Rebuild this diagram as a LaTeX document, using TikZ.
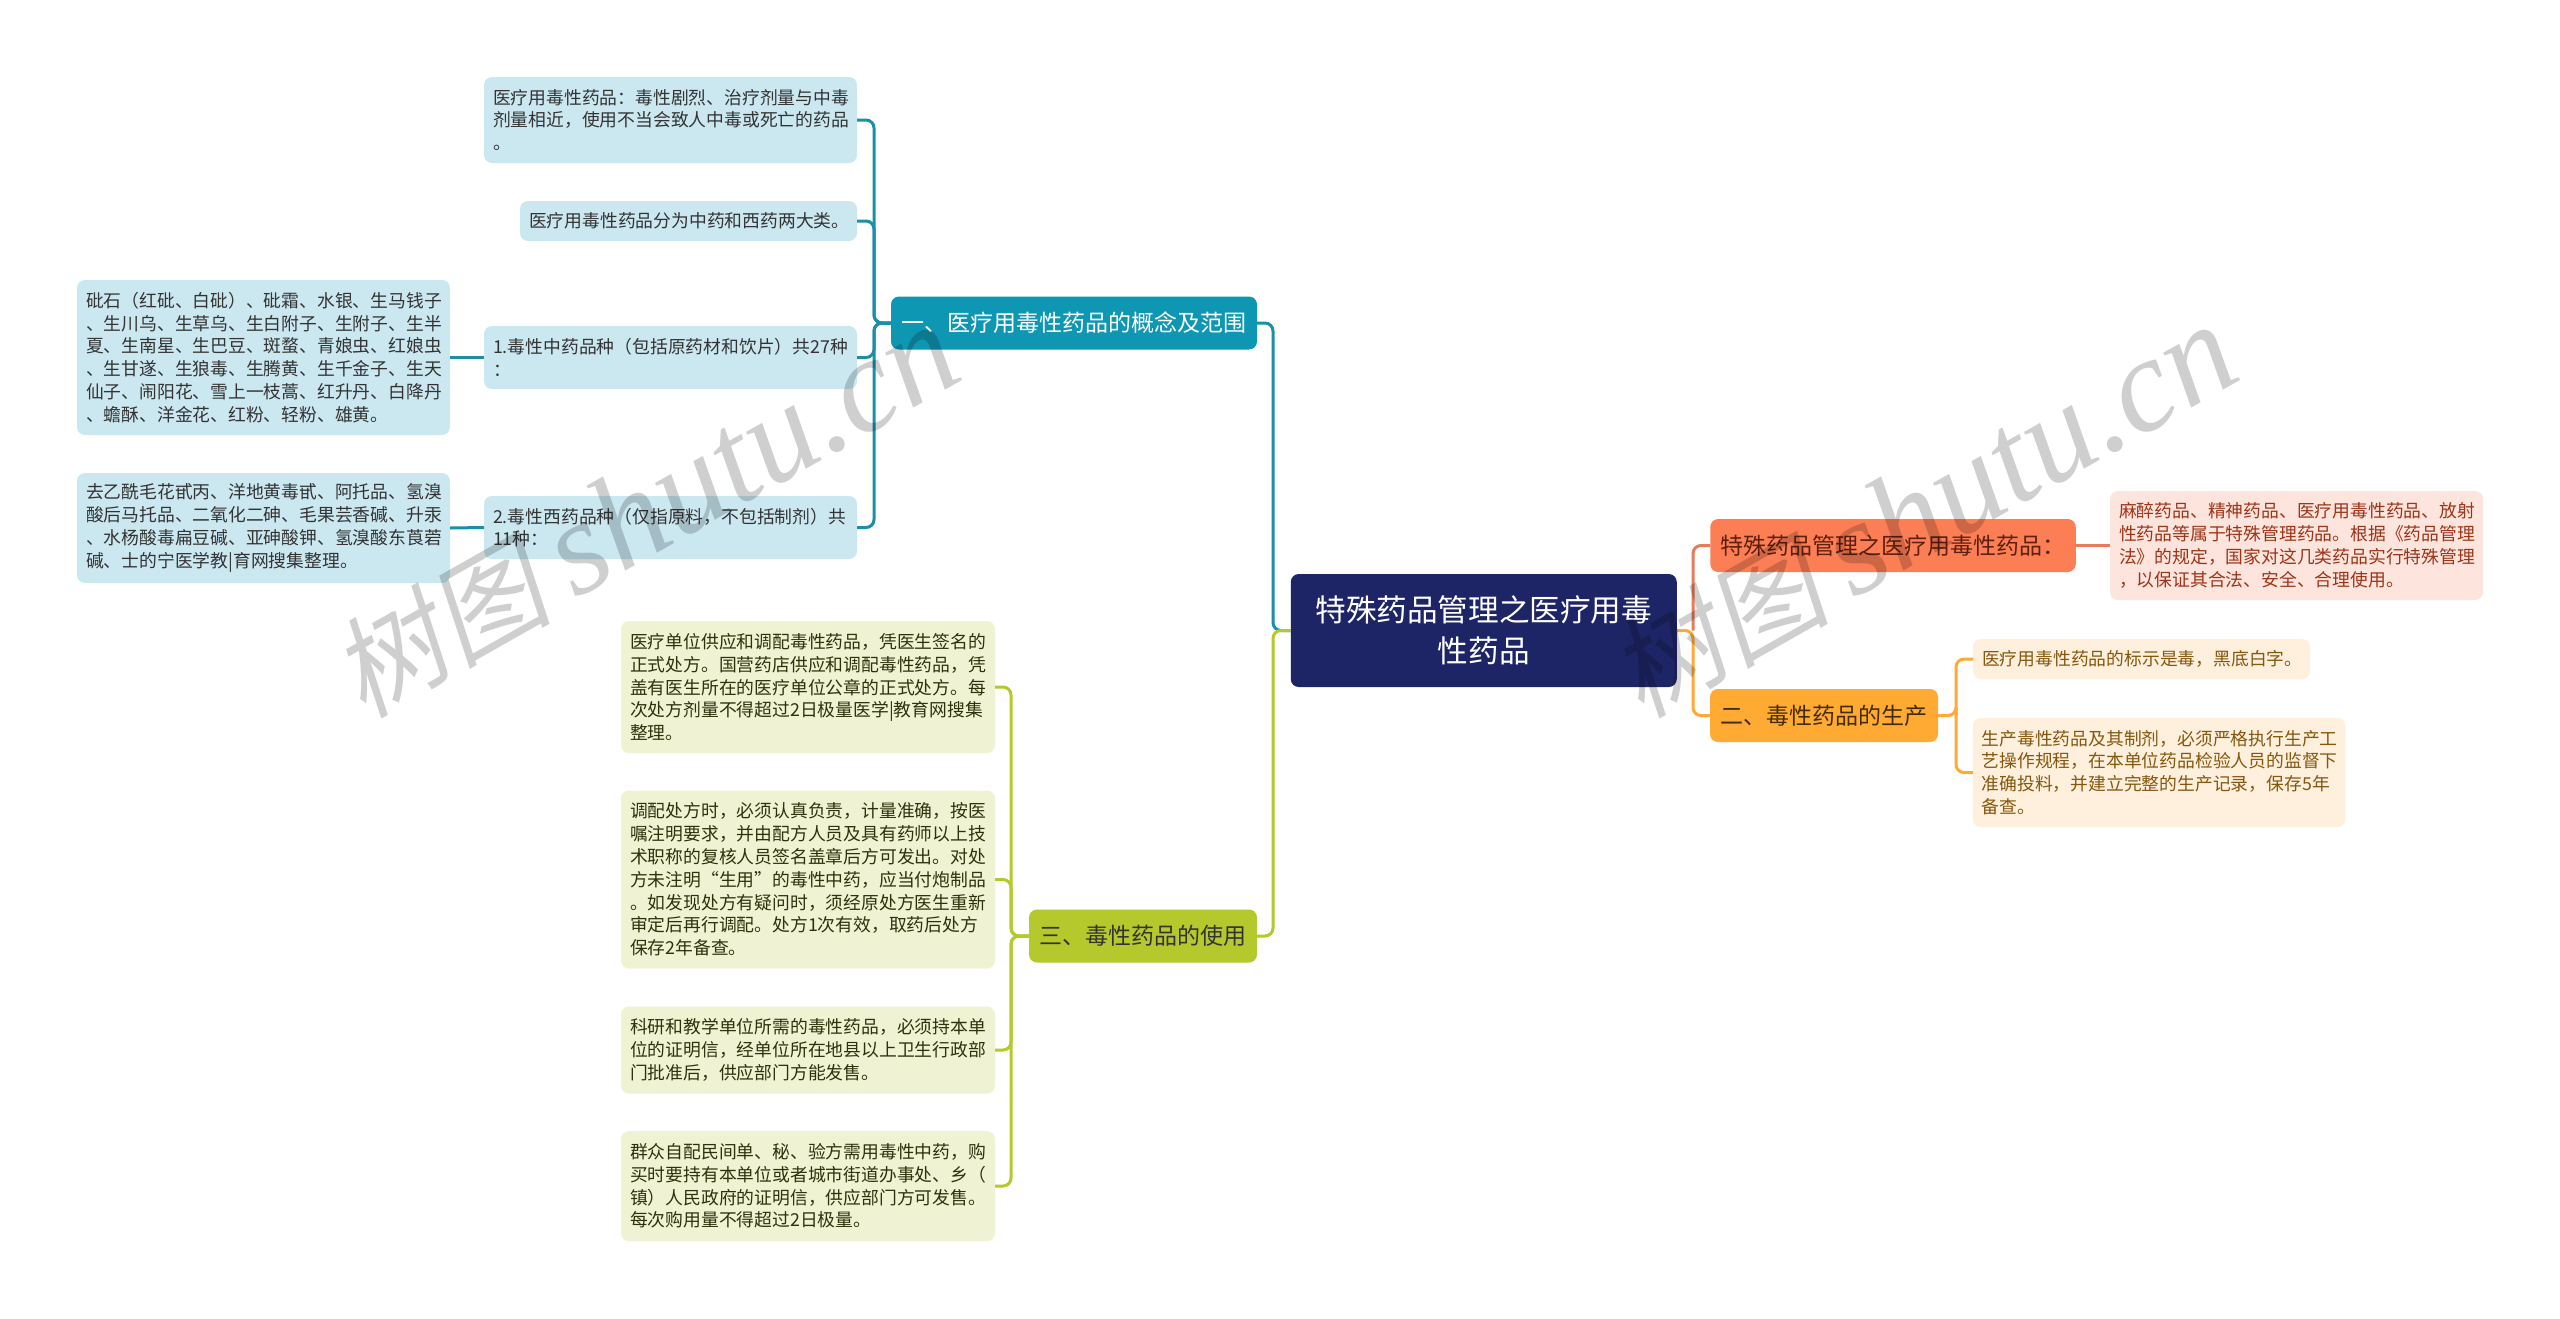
\documentclass[tikz,border=0pt]{standalone}
\usepackage{fontspec}
\setmainfont{Noto Sans CJK SC}
\newfontfamily\markfont[FakeSlant=0.2]{Noto Sans CJK SC}
\newfontfamily\marklatin{Liberation Serif}[ItalicFont=* Italic]
\usepackage{tikz}
\usetikzlibrary{calc}
\definecolor{tealdark}{HTML}{0E97B3}
\definecolor{tealline}{HTML}{1A8FA8}
\definecolor{teallight}{HTML}{CBE8F1}
\definecolor{greendark}{HTML}{B5C92C}
\definecolor{greenlight}{HTML}{EFF3D4}
\definecolor{reddark}{HTML}{FC7E55}
\definecolor{redline}{HTML}{E87C5A}
\definecolor{redlight}{HTML}{FDE5DD}
\definecolor{redtext}{HTML}{9C3418}
\definecolor{orangedark}{HTML}{FFAA33}
\definecolor{orangelight}{HTML}{FEF0DC}
\definecolor{orangetext}{HTML}{85570F}
\definecolor{rootblue}{HTML}{1E2566}
\newcommand{\marktext}{{\markfont\fontsize{55}{70}\selectfont 树图} {\marklatin\itshape\fontsize{67}{70}\selectfont shutu.cn}}
\tikzset{
    % Boxes
    box/.style={rectangle,rounded corners=4pt,inner ysep=0pt,outer sep=0pt},
    leaf/.style={box,inner xsep=4.5pt,align=left,font=\fontsize{8.9}{11.4}\selectfont},
    branch/.style={box,inner xsep=0pt,align=center,minimum height=26.5pt,font=\fontsize{11.5}{14}\selectfont},
    root box/.style={box,fill=rootblue,text=white,align=center,text width=175pt,minimum width=193pt,minimum height=56.5pt,font=\fontsize{15.3}{20.3}\selectfont},
    %
    % Colors of the four arms
    teal leaf/.style={leaf,fill=teallight,text=black!80},
    green leaf/.style={leaf,fill=greenlight,text=black!75!greendark},
    red leaf/.style={leaf,fill=redlight,text=redtext},
    orange leaf/.style={leaf,fill=orangelight,text=orangetext},
    %
    % Connectors
    conn/.style={line width=1.5pt,rounded corners=4pt},
    teal conn/.style={conn,tealline},
    green conn/.style={conn,greendark},
    red conn/.style={conn,redline},
    orange conn/.style={conn,orangedark},
    %
    % Watermark
    watermark/.style={black,opacity=.19,rotate=29.5,font=\fontsize{53}{70}\selectfont}
}
\begin{document}
\begin{tikzpicture}[x=.5pt,y=-.5pt]
    \useasboundingbox[fill=white] (0,0) rectangle (2560,1318);

    \node[root box] (root) at (1483.75,630.5) {特殊药品管理之医疗用毒\\性药品};

    % left side
    \node[branch,fill=tealdark,text=white,minimum width=183pt] (concept) at (1074,323) {一、医疗用毒性药品的概念及范围};
    \node[teal leaf,text width=177.5pt,minimum height=43pt] (definition) at (670.5,120) {医疗用毒性药品：毒性剧烈、治疗剂量与中毒\\剂量相近，使用不当会致人中毒或死亡的药品\\。};
    \node[teal leaf,text width=159.5pt,minimum height=20pt] (kinds) at (688.5,221) {医疗用毒性药品分为中药和西药两大类。};
    \node[teal leaf,text width=177.5pt,minimum height=31.5pt] (herbal) at (670.5,357.5) {1.毒性中药品种（包括原药材和饮片）共27种\\：};
    \node[teal leaf,text width=177.5pt,minimum height=31.5pt] (western) at (670.5,527.5) {2.毒性西药品种（仅指原料，不包括制剂）共\\11种：};
    \node[teal leaf,text width=177.5pt,minimum height=77.5pt] (herballist) at (263.5,357.5) {砒石（红砒、白砒）、砒霜、水银、生马钱子\\、生川乌、生草乌、生白附子、生附子、生半\\夏、生南星、生巴豆、斑蝥、青娘虫、红娘虫\\、生甘遂、生狼毒、生腾黄、生千金子、生天\\仙子、闹阳花、雪上一枝蒿、红升丹、白降丹\\、蟾酥、洋金花、红粉、轻粉、雄黄。};
    \node[teal leaf,text width=177.5pt,minimum height=55pt] (westernlist) at (263.5,528) {去乙酰毛花甙丙、洋地黄毒甙、阿托品、氢溴\\酸后马托品、二氧化二砷、毛果芸香碱、升汞\\、水杨酸毒扁豆碱、亚砷酸钾、氢溴酸东莨菪\\碱、士的宁医学教|育网搜集整理。};

    \node[branch,fill=greendark,text=black!80,minimum width=114pt] (usage) at (1143,936) {三、毒性药品的使用};
    \node[green leaf,text width=178pt,minimum height=66pt] (prescription) at (808,687) {医疗单位供应和调配毒性药品，凭医生签名的\\正式处方。国营药店供应和调配毒性药品，凭\\盖有医生所在的医疗单位公章的正式处方。每\\次处方剂量不得超过2日极量医学|教育网搜集\\整理。};
    \node[green leaf,text width=178pt,minimum height=89pt] (dispensing) at (808,879.5) {调配处方时，必须认真负责，计量准确，按医\\嘱注明要求，并由配方人员及具有药师以上技\\术职称的复核人员签名盖章后方可发出。对处\\方未注明“生用”的毒性中药，应当付炮制品\\。如发现处方有疑问时，须经原处方医生重新\\审定后再行调配。处方1次有效，取药后处方\\保存2年备查。};
    \node[green leaf,text width=178pt,minimum height=43.5pt] (research) at (808,1050) {科研和教学单位所需的毒性药品，必须持本单\\位的证明信，经单位所在地县以上卫生行政部\\门批准后，供应部门方能发售。};
    \node[green leaf,text width=178pt,minimum height=55pt] (public) at (808,1186) {群众自配民间单、秘、验方需用毒性中药，购\\买时要持有本单位或者城市街道办事处、乡（\\镇）人民政府的证明信，供应部门方可发售。\\每次购用量不得超过2日极量。};

    % right side
    \node[branch,fill=reddark,text=black!40!redtext,minimum width=182.75pt] (special) at (1893,545.5) {特殊药品管理之医疗用毒性药品：};
    \node[branch,fill=orangedark,text=black!50!orangetext,minimum width=114pt] (production) at (1824,715.5) {二、毒性药品的生产};
    \node[red leaf,text width=177.5pt,minimum height=54.5pt] (specialtext) at (2296.5,545.5) {麻醉药品、精神药品、医疗用毒性药品、放射\\性药品等属于特殊管理药品。根据《药品管理\\法》的规定，国家对这几类药品实行特殊管理\\，以保证其合法、安全、合理使用。};
    \node[orange leaf,text width=159.5pt,minimum height=20pt] (label) at (2141.5,659) {医疗用毒性药品的标示是毒，黑底白字。};
    \node[orange leaf,text width=177.25pt,minimum height=54.5pt] (records) at (2159,772.5) {生产毒性药品及其制剂，必须严格执行生产工\\艺操作规程，在本单位药品检验人员的监督下\\准确投料，并建立完整的生产记录，保存5年\\备查。};

    \coordinate (concept spine) at (874,323);
    \coordinate (usage spine) at (1011,936);
    \coordinate (left spine) at (1273,630.5);
    \coordinate (right spine) at (1693,630.5);
    \coordinate (production spine) at (1956,715.5);

    \draw[teal conn] (definition.east) -| (concept spine) -- (concept.west);
    \draw[teal conn] (kinds.east) -| (concept spine) -- (concept.west);
    \draw[teal conn] (herbal.east) -| (concept spine) -- (concept.west);
    \draw[teal conn] (western.east) -| (concept spine) -- (concept.west);
    \draw[teal conn] (herballist.east) -- (herbal.west);
    \draw[teal conn] (westernlist.east) -- (western.west);
    \draw[teal conn] (concept.east) -| (left spine) -- (root.west);

    \draw[green conn] (prescription.east) -| (usage spine) -- (usage.west);
    \draw[green conn] (dispensing.east) -| (usage spine) -- (usage.west);
    \draw[green conn] (research.east) -| (usage spine) -- (usage.west);
    \draw[green conn] (public.east) -| (usage spine) -- (usage.west);
    \draw[green conn] (usage.east) -| (left spine) -- (root.west);

    \draw[red conn] (special.west) -| (right spine);
    \draw[red conn] (special.east) -- (specialtext.west);
    \draw[orange conn] (production.west) -| (right spine) -- (root.east);
    \draw[orange conn] (production.east) -| (production spine);
    \draw[orange conn] (label.west) -| (production spine);
    \draw[orange conn] (records.west) -| (production spine);

    % watermark
    \node[watermark] (mark one) at (645,512) {\marktext};
    \node[watermark] (mark two) at (1923,512) {\marktext};
\end{tikzpicture}
\end{document}
